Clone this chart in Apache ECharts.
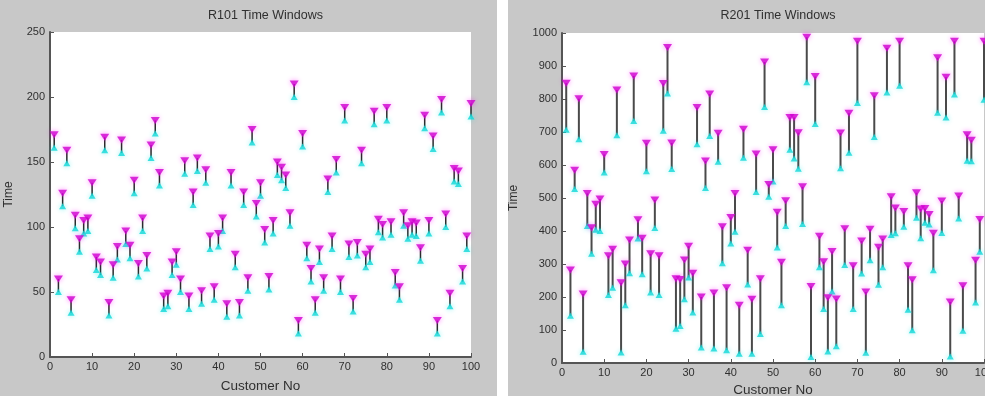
<!DOCTYPE html>
<html>
<head>
<meta charset="utf-8">
<script src="https://cdn.jsdelivr.net/npm/echarts@6/dist/echarts.min.js"></script>
<style>
  html, body { margin: 0; padding: 0; background: #fff; }
  #wrap { position: relative; width: 985px; height: 396px; }
  #left { position: absolute; left: 0; top: 0; width: 497px; height: 396px; }
  #right { position: absolute; left: 508px; top: 0; width: 477px; height: 396px; }
</style>
</head>
<body>
<div id="wrap">
  <div id="left"></div>
  <div id="right"></div>
</div>
<script>
  // R101: ready time / due time per customer 1..100
  const r101Ready = [161, 50, 116, 149, 34, 99, 81, 95, 97, 124, 67, 63, 159, 32, 61, 75, 157, 87, 76, 126,
    62, 97, 68, 153, 172, 132, 37, 39, 63, 71, 50, 141, 37, 117, 143, 41, 134, 83, 44, 85,
    97, 31, 132, 69, 32, 117, 51, 165, 108, 124, 88, 52, 95, 140, 136, 130, 101, 200, 18, 162,
    76, 58, 34, 73, 51, 127, 83, 142, 50, 182, 77, 35, 78, 149, 69, 73, 179, 96, 92, 182,
    94, 55, 44, 101, 91, 94, 93, 74, 176, 95, 160, 18, 188, 100, 39, 135, 133, 58, 83, 185];
  const r101Due = [171, 60, 126, 159, 44, 109, 91, 105, 107, 134, 77, 73, 169, 42, 71, 85, 167, 97, 86, 136,
    72, 107, 78, 163, 182, 142, 47, 49, 73, 81, 60, 151, 47, 127, 153, 51, 144, 93, 54, 95,
    107, 41, 142, 79, 42, 127, 61, 175, 118, 134, 98, 62, 105, 150, 146, 140, 111, 210, 28, 172,
    86, 68, 44, 83, 61, 137, 93, 152, 60, 192, 87, 45, 88, 159, 79, 83, 189, 106, 102, 192,
    104, 65, 54, 111, 101, 104, 103, 84, 186, 105, 170, 28, 198, 110, 49, 145, 143, 68, 93, 195];

  // R201: ready time / due time per customer 1..100
  const r201Ready = [707, 143, 527, 678, 34, 415, 331, 404, 400, 577, 206, 228, 690, 32, 175, 272, 733, 377, 269, 581,
    214, 409, 206, 704, 817, 588, 104, 112, 193, 259, 153, 663, 47, 530, 688, 44, 610, 302, 39, 362,
    398, 28, 622, 238, 28, 518, 88, 776, 504, 550, 350, 175, 415, 646, 620, 589, 421, 851, 18, 724,
    290, 164, 35, 217, 51, 590, 297, 637, 164, 788, 271, 31, 311, 685, 237, 290, 820, 388, 393, 840,
    413, 161, 99, 440, 378, 425, 420, 281, 758, 394, 744, 20, 814, 438, 98, 613, 611, 183, 337, 798];
  const r201Due = [848, 282, 584, 801, 209, 514, 410, 481, 497, 632, 325, 345, 827, 243, 300, 373, 870, 434, 378, 666,
    331, 494, 325, 847, 956, 667, 255, 253, 312, 354, 272, 774, 200, 612, 815, 212, 696, 413, 228, 441,
    514, 175, 708, 342, 193, 633, 255, 912, 541, 646, 457, 305, 492, 744, 744, 698, 534, 987, 232, 868,
    384, 307, 198, 338, 194, 697, 407, 757, 295, 975, 370, 215, 405, 810, 351, 376, 954, 504, 470, 975,
    459, 295, 252, 516, 467, 468, 450, 393, 925, 491, 866, 185, 975, 506, 234, 692, 675, 311, 435, 975];

  const xTicks = { min: 0, max: 100, interval: 10 };
  const FONT = '"Liberation Sans", Arial, sans-serif';

  function pairs(vals) {
    // customer numbers start at 1
    return vals.map((v, i) => [i + 1, v]);
  }

  function buildOption(cfg) {
    const windows = cfg.ready.map((r, i) => [i + 1, r, cfg.due[i]]);
    return {
      animation: false,
      backgroundColor: '#c8c8c8',
      title: {
        text: cfg.title,
        left: cfg.gridLeft + cfg.gridWidth / 2,
        textAlign: 'center',
        top: 4,
        textStyle: { fontFamily: FONT, fontSize: 12.5, fontWeight: 'normal', color: '#303030' },
      },
      grid: {
        left: cfg.gridLeft,
        top: cfg.gridTop,
        width: cfg.gridWidth,
        height: cfg.gridHeight,
        containLabel: false,
        outerBoundsMode: 'none',
        show: true,
        backgroundColor: '#ffffff',
        borderWidth: 0,
      },
      xAxis: {
        type: 'value',
        min: xTicks.min,
        max: xTicks.max,
        interval: xTicks.interval,
        name: 'Customer No',
        nameLocation: 'middle',
        nameGap: cfg.xNameGap,
        nameTextStyle: { fontFamily: FONT, fontSize: 13.5, color: '#303030' },
        axisLine: { onZero: false, lineStyle: { color: '#555', width: 2 } },
        axisTick: { inside: true, length: 4, lineStyle: { color: '#555' } },
        axisLabel: { fontFamily: FONT, fontSize: 11, color: '#303030', margin: 4 },
        splitLine: { show: false },
      },
      yAxis: {
        type: 'value',
        min: 0,
        max: cfg.yMax,
        interval: cfg.yStep,
        name: 'Time',
        nameLocation: 'middle',
        nameRotate: 90,
        nameGap: cfg.nameGap,
        nameTextStyle: { fontFamily: FONT, fontSize: 12, color: '#303030' },
        axisLine: { show: true, onZero: false, lineStyle: { color: '#555', width: 2 } },
        axisTick: { show: true, inside: true, length: 4, lineStyle: { color: '#555' } },
        axisLabel: {
          fontFamily: FONT, fontSize: 11, color: '#303030', margin: 5,
          formatter: (v) => String(v),
        },
        splitLine: { show: false },
      },
      series: [
        {
          type: 'custom',
          data: windows,
          z: 2,
          renderItem: function (params, api) {
            const a = api.coord([api.value(0), api.value(1)]);
            const b = api.coord([api.value(0), api.value(2)]);
            return {
              type: 'line',
              shape: { x1: a[0], y1: a[1], x2: b[0], y2: b[1] },
              style: { stroke: cfg.stemColor, lineWidth: cfg.stemWidth },
            };
          },
        },
        {
          type: 'scatter',
          data: pairs(cfg.ready),
          symbol: 'triangle',
          symbolSize: [7, 6],
          z: 3,
          itemStyle: { color: '#10d8d8', shadowColor: 'rgba(0,230,230,0.6)', shadowBlur: 5 },
        },
        {
          type: 'scatter',
          data: pairs(cfg.due),
          symbol: 'triangle',
          symbolRotate: 180,
          symbolSize: [9, 7],
          z: 4,
          itemStyle: { color: '#d000d0', shadowColor: 'rgba(255,0,255,0.6)', shadowBlur: 5 },
        },
      ],
    };
  }

  const leftChart = echarts.init(document.getElementById('left'));
  leftChart.setOption(buildOption({
    title: 'R101 Time Windows',
    ready: r101Ready,
    due: r101Due,
    yMax: 250,
    yStep: 50,
    gridLeft: 50,
    gridTop: 32,
    gridWidth: 421,
    gridHeight: 325,
    nameGap: 35,
    xNameGap: 22,
    stemColor: '#2a2a2a',
    stemWidth: 1.5,
  }));

  const rightChart = echarts.init(document.getElementById('right'));
  rightChart.setOption(buildOption({
    title: 'R201 Time Windows',
    ready: r201Ready,
    due: r201Due,
    yMax: 1000,
    yStep: 100,
    gridLeft: 54,
    gridTop: 33,
    gridWidth: 422,
    gridHeight: 330,
    nameGap: 42,
    xNameGap: 19,
    stemColor: '#4a4a4a',
    stemWidth: 2,
  }));
</script>
</body>
</html>
